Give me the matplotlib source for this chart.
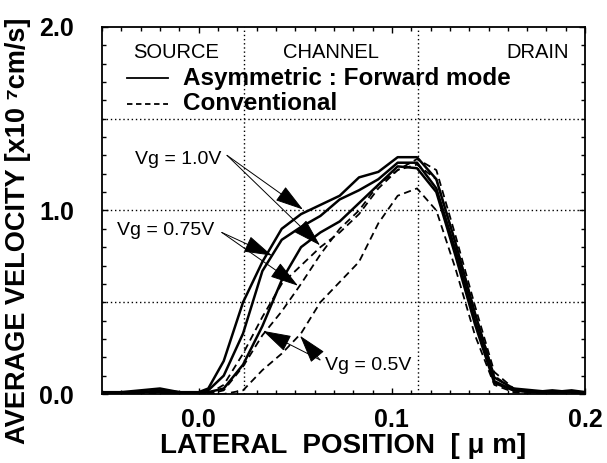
import matplotlib
matplotlib.use("Agg")
import matplotlib.pyplot as plt
from matplotlib.ticker import MultipleLocator

plt.rcParams['font.family'] = ['Liberation Sans', 'DejaVu Sans']

# lateral position [um]
pos = [-0.05, -0.04, -0.03, -0.02, -0.01, 0.0, 0.005, 0.013, 0.023, 0.033, 0.043,
       0.053, 0.063, 0.073, 0.083, 0.093, 0.103, 0.113, 0.123, 0.133, 0.143,
       0.153, 0.163, 0.173, 0.183, 0.193, 0.2]

# asymmetric (forward mode), solid
asym_10 = [0.01, 0.01, 0.02, 0.03, 0.01, 0.01, 0.03, 0.18, 0.50, 0.72, 0.90,
           0.98, 1.03, 1.08, 1.18, 1.21, 1.29, 1.29, 1.17, 0.82, 0.44,
           0.09, 0.03, 0.02, 0.01, 0.02, 0.01]
asym_075 = [0.0, 0.01, 0.01, 0.02, 0.01, 0.0, 0.02, 0.10, 0.33, 0.67, 0.84,
            0.91, 0.97, 1.06, 1.11, 1.17, 1.26, 1.26, 1.12, 0.78, 0.40,
            0.07, 0.02, 0.01, 0.02, 0.01, 0.01]
asym_05 = [0.0, 0.0, 0.01, 0.01, 0.0, 0.0, 0.01, 0.03, 0.16, 0.37, 0.62,
           0.80, 0.88, 0.94, 1.04, 1.14, 1.24, 1.23, 1.10, 0.75, 0.38,
           0.06, 0.02, 0.01, 0.01, 0.01, 0.0]

# conventional, dashed
conv_10 = [0.0, 0.0, 0.01, 0.01, 0.0, 0.0, 0.0, 0.05, 0.22, 0.42, 0.60,
           0.70, 0.80, 0.88, 0.98, 1.12, 1.22, 1.28, 1.22, 0.86, 0.48,
           0.12, 0.03, 0.01, 0.01, 0.01, 0.0]
conv_075 = [0.0, 0.0, 0.0, 0.01, 0.0, 0.0, 0.0, 0.02, 0.15, 0.32, 0.45,
            0.60, 0.76, 0.90, 1.00, 1.14, 1.22, 1.25, 1.17, 0.82, 0.44,
            0.10, 0.02, 0.01, 0.0, 0.01, 0.0]
conv_05 = [0.0, 0.0, 0.0, 0.0, 0.0, 0.0, 0.0, 0.0, 0.02, 0.13, 0.22,
           0.33, 0.50, 0.61, 0.72, 0.93, 1.08, 1.12, 1.00, 0.68, 0.32,
           0.05, 0.01, 0.0, 0.0, 0.0, 0.0]

# region boundaries (source/channel, channel/drain)
bounds = [0.0235, 0.1135]

fig = plt.figure(figsize=(6.07, 4.63), dpi=100)
ax = fig.add_axes([0.168, 0.149, 0.796, 0.793])

for y in [0.5, 1.0, 1.5]:
    ax.axhline(y, color='black', lw=1.0, ls=(0, (1, 2)), zorder=1)
for x in bounds:
    ax.axvline(x, color='black', lw=1.0, ls=(0, (1, 2)), zorder=1)

for v in [asym_10, asym_075, asym_05]:
    ax.plot(pos, v, color='black', lw=1.8, zorder=3)
for v in [conv_10, conv_075, conv_05]:
    ax.plot(pos, v, color='black', lw=1.3, ls=(0, (4, 2.5)), zorder=3)

# region names
ax.text(-0.0115, 1.86, 'SOURCE', ha='center', va='center', fontsize=14.5)
ax.text(0.0684, 1.86, 'CHANNEL', ha='center', va='center', fontsize=14.5)
ax.text(0.1915, 1.86, 'DRAIN', ha='right', va='center', fontsize=14.5)

# hand drawn legend
ax.plot([-0.037, -0.016], [1.72, 1.72], color='black', lw=1.3)
ax.plot([-0.037, -0.016], [1.58, 1.58], color='black', lw=1.3, ls=(0, (3, 2)))
ax.text(-0.008, 1.72, 'Asymmetric : Forward mode', ha='left', va='center',
        fontsize=17.5, fontweight='bold')
ax.text(-0.008, 1.58, 'Conventional', ha='left', va='center',
        fontsize=17.5, fontweight='bold')

# gate voltage labels with arrows
arrow = dict(arrowstyle='-|>,head_length=1.0,head_width=0.3', color='black',
             lw=0.7, shrinkA=0, shrinkB=0, mutation_scale=18)
ax.text(-0.0329, 1.28, 'Vg = 1.0V', ha='left', va='center', fontsize=14)
for tip in [(0.054, 1.005), (0.0628, 0.81)]:
    ax.annotate('', xy=tip, xytext=(0.0147, 1.30), arrowprops=arrow, zorder=4)
ax.text(-0.0422, 0.89, 'Vg = 0.75V', ha='left', va='center', fontsize=14)
for tip in [(0.038, 0.754), (0.0514, 0.59)]:
    ax.annotate('', xy=tip, xytext=(0.012, 0.88), arrowprops=arrow, zorder=4)
ax.text(0.0654, 0.153, 'Vg = 0.5V', ha='left', va='center', fontsize=14)
for tip in [(0.0333, 0.344), (0.0525, 0.317)]:
    ax.annotate('', xy=tip, xytext=(0.0628, 0.186), arrowprops=arrow, zorder=4)

ax.set_xlim(-0.05, 0.2)
ax.set_ylim(0.0, 2.0)
ax.set_xticks([0.0, 0.1, 0.2])
ax.set_xticklabels(['0.0', '0.1', '0.2'])
ax.set_yticks([0.0, 1.0, 2.0])
ax.set_yticklabels(['0.0', '1.0', '2.0'])
ax.xaxis.set_minor_locator(MultipleLocator(0.01))
ax.yaxis.set_minor_locator(MultipleLocator(0.1))
ax.tick_params(which='both', direction='in', top=True, right=True, width=1.0)
ax.tick_params(which='major', length=4)
ax.tick_params(which='minor', length=3)
ax.tick_params(axis='x', which='major', pad=10, labelsize=18)
ax.tick_params(axis='y', which='major', pad=20, labelsize=18)
for lab in ax.get_xticklabels() + ax.get_yticklabels():
    lab.set_fontweight('bold')
for s in ax.spines.values():
    s.set_linewidth(1.3)

ax.set_xlabel('LATERAL  POSITION  [ μ m]', fontsize=20, fontweight='bold', labelpad=1)
ax.set_ylabel('AVERAGE VELOCITY [x10 \u2077cm/s]', fontsize=19.5, fontweight='bold')
ax.yaxis.set_label_coords(-0.147, 0.444)

fig.savefig('out.png', dpi=100)
